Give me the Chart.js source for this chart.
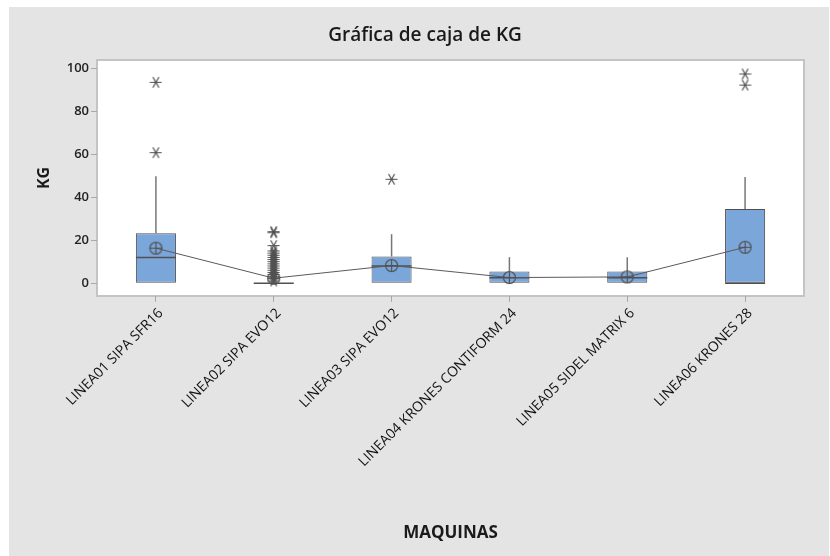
<!DOCTYPE html>
<html>
<head>
<meta charset="utf-8">
<script src="https://cdn.jsdelivr.net/npm/chart.js@4.4.1/dist/chart.umd.min.js"></script>
<style>
  html, body { margin: 0; padding: 0; background: #fff; }
  #marco {
    position: absolute; left: 9px; top: 7px;
    width: 820px; height: 549px; background: #e4e4e4;
  }
</style>
</head>
<body>
<div id="marco"><canvas id="caja" width="820" height="549"></canvas></div>
<script>
const titulo = "Gráfica de caja de KG";
const maquinas = [
  "LINEA01 SIPA SFR16",
  "LINEA02 SIPA EVO12",
  "LINEA03 SIPA EVO12",
  "LINEA04 KRONES CONTIFORM 24",
  "LINEA05 SIDEL MATRIX 6",
  "LINEA06 KRONES 28",
];
const q1 = [0, 0, 0, 0, 0, 0];
const q3 = [23.2, 0, 12.4, 5.4, 5.4, 34.5];
const medianas = [11.9, 0, 8, 2.5, 2.5, 0];
const medias = [16.3, 2.3, 8.2, 2.6, 2.9, 16.7];
const bigoteInf = [0, 0, 0, 0, 0, 0];
const bigoteSup = [49.8, 0, 22.8, 12.1, 12.1, 49.5];
const atipicos = [
  [93.6, 60.8],
  [24, 23.5, 17.5, 15, 14, 13, 12, 11, 10, 9, 8, 7, 6, 5, 4, 3, 2, 1],
  [48.4],
  [],
  [],
  [97.5, 92.3],
];
const marcasY = [0, 20, 40, 60, 80, 100];

const gris = "#505050";

// mean symbol: circle with a cross inside
function simboloMedia() {
  const c = document.createElement("canvas");
  c.width = 15; c.height = 15;
  const g = c.getContext("2d");
  g.strokeStyle = gris; g.lineWidth = 1.2;
  g.beginPath(); g.arc(7.5, 7.5, 6, 0, Math.PI * 2); g.stroke();
  g.beginPath();
  g.moveTo(1.5, 7.5); g.lineTo(13.5, 7.5);
  g.moveTo(7.5, 1.5); g.lineTo(7.5, 13.5);
  g.stroke();
  return c;
}

// outlier symbol: asterisk
function simboloAtipico() {
  const c = document.createElement("canvas");
  c.width = 13; c.height = 13;
  const g = c.getContext("2d");
  g.strokeStyle = gris; g.lineWidth = 1.2;
  g.beginPath();
  g.moveTo(0.5, 6.5); g.lineTo(12.5, 6.5);
  for (const a of [60, 120]) {
    const r = a * Math.PI / 180;
    g.moveTo(6.5 - 6 * Math.cos(r), 6.5 - 6 * Math.sin(r));
    g.lineTo(6.5 + 6 * Math.cos(r), 6.5 + 6 * Math.sin(r));
  }
  g.stroke();
  return c;
}

const puntosAtipicos = [];
atipicos.forEach((lista, i) => {
  lista.forEach((v) => puntosAtipicos.push({ x: maquinas[i], y: v }));
});

// white plot area with grey frame, and the title
const fondoGrafico = {
  id: "fondoGrafico",
  beforeDraw(chart) {
    const { ctx, chartArea: a } = chart;
    ctx.save();
    ctx.fillStyle = "#ffffff";
    ctx.fillRect(a.left, a.top, a.right - a.left, a.bottom - a.top);
    ctx.strokeStyle = "#c4c4c4";
    ctx.lineWidth = 2;
    ctx.strokeRect(a.left, a.top, a.right - a.left, a.bottom - a.top);
    ctx.fillStyle = "#1a1a1a";
    ctx.font = "600 19px 'Open Sans'";
    ctx.textAlign = "center";
    ctx.textBaseline = "middle";
    ctx.fillText(titulo, chart.width / 2 + 6, 29);
    ctx.restore();
  },
};

// whiskers and median lines, positioned from the box bars
const bigotes = {
  id: "bigotes",
  afterDatasetDraw(chart, args) {
    if (args.index !== 0) return;
    const { ctx } = chart;
    const y = chart.scales.y;
    ctx.save();
    ctx.strokeStyle = "#777";
    ctx.lineWidth = 1.5;
    args.meta.data.forEach((bar, i) => {
      ctx.beginPath();
      ctx.moveTo(bar.x, y.getPixelForValue(q3[i]));
      ctx.lineTo(bar.x, y.getPixelForValue(bigoteSup[i]));
      ctx.moveTo(bar.x, y.getPixelForValue(q1[i]));
      ctx.lineTo(bar.x, y.getPixelForValue(bigoteInf[i]));
      ctx.stroke();
    });
    ctx.strokeStyle = gris;
    ctx.lineWidth = 1.5;
    args.meta.data.forEach((bar, i) => {
      const yy = y.getPixelForValue(medianas[i]);
      ctx.beginPath();
      ctx.moveTo(bar.x - bar.width / 2, yy);
      ctx.lineTo(bar.x + bar.width / 2, yy);
      ctx.stroke();
    });
    ctx.restore();
  },
};

new Chart(document.getElementById("caja"), {
  type: "bar",
  data: {
    labels: maquinas,
    datasets: [
      {
        label: "Caja",
        data: maquinas.map((m, i) => [q1[i], q3[i]]),
        backgroundColor: "#7ba6da",
        borderColor: gris,
        borderWidth: 1,
        borderSkipped: false,
        barPercentage: 0.34,
        categoryPercentage: 1,
        order: 3,
      },
      {
        type: "line",
        label: "Media",
        data: medias,
        borderColor: "#5a5a5a",
        borderWidth: 1,
        tension: 0,
        pointStyle: simboloMedia(),
        order: 1,
      },
      {
        type: "line",
        label: "Atípicos",
        data: puntosAtipicos,
        showLine: false,
        pointStyle: simboloAtipico(),
        order: 2,
      },
    ],
  },
  options: {
    responsive: false,
    animation: false,
    layout: { padding: { left: 0, top: 53, right: 25, bottom: 0 } },
    plugins: {
      legend: { display: false },
      tooltip: { enabled: false },
    },
    scales: {
      x: {
        grid: { offset: false, drawOnChartArea: false, drawTicks: true, tickLength: 6, color: "#a8a8a8" },
        border: { display: false },
        ticks: {
          autoSkip: false,
          minRotation: 45,
          maxRotation: 45,
          labelOffset: 5,
          color: "#111",
          padding: 3,
          font: { family: "'Open Sans'", size: 14, weight: "500" },
        },
        title: {
          display: true,
          text: "MAQUINAS",
          color: "#1a1a1a",
          font: { family: "'Open Sans'", size: 17, weight: "bold" },
          padding: { top: 0, bottom: 13 },
        },
        afterFit(scale) { scale.height = 260; },
      },
      y: {
        min: -6,
        max: 104,
        grid: { drawOnChartArea: false, drawTicks: true, tickLength: 6, color: "#a8a8a8" },
        border: { display: false },
        afterBuildTicks(scale) { scale.ticks = marcasY.map((v) => ({ value: v })); },
        ticks: {
          color: "#222",
          padding: 2,
          font: { family: "'Open Sans'", size: 13, weight: "600" },
        },
        title: {
          display: true,
          text: "KG",
          color: "#1a1a1a",
          font: { family: "'Open Sans'", size: 16, weight: "bold" },
          padding: { top: 26, bottom: 0 },
        },
        afterFit(scale) { scale.width = 88; },
      },
    },
  },
  plugins: [fondoGrafico, bigotes],
});
</script>
</body>
</html>
